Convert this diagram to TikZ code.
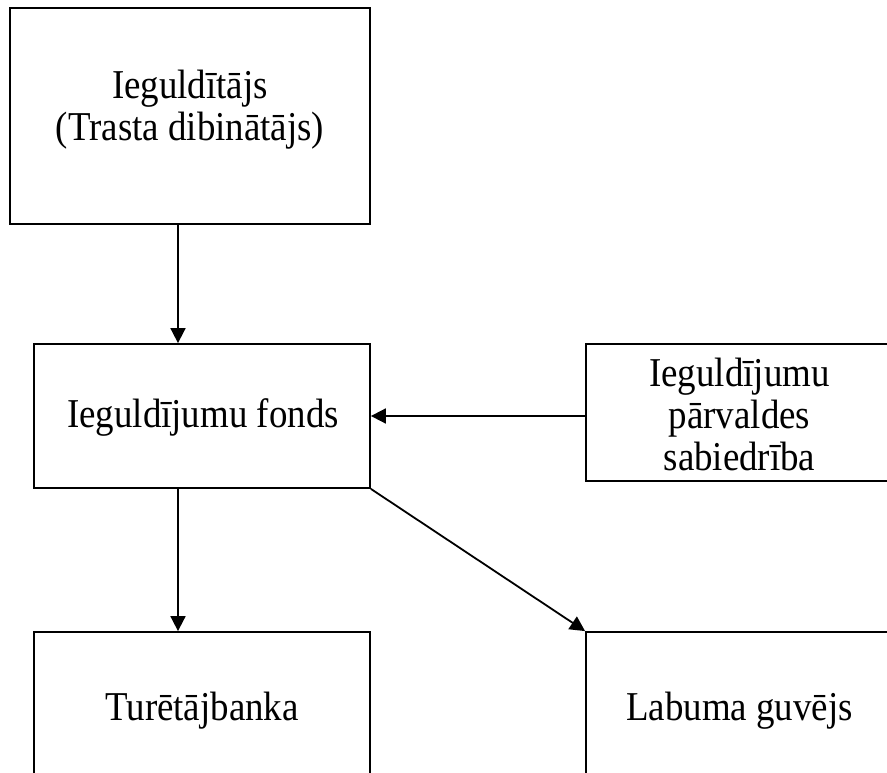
\documentclass[tikz,border=0pt]{standalone}
\usepackage{fontspec}
\setmainfont{Liberation Serif}[FakeStretch=0.9]
\usetikzlibrary{arrows.meta}
\begin{document}
\begin{tikzpicture}[x=1pt,y=-1pt,
  box/.style={draw,line width=1.8pt,inner sep=0pt},
  txt/.style={inner sep=0pt,align=center,
    font=\fontsize{41}{42}\selectfont},
  arrow/.style={line width=1.8pt,-{Triangle[length=15pt,width=15pt]}}]
  \useasboundingbox (0,0) rectangle (887,773);
  \clip (0,0) rectangle (887,773);

  % boxes
  \node[box,minimum width=360pt,minimum height=216pt] (investor) at (190,116) {};
  \node[box,minimum width=336pt,minimum height=144pt] (fund) at (202,416) {};
  \node[box,minimum width=307pt,minimum height=137pt] (mgmt) at (739.5,412.5) {};
  \node[box,minimum width=336pt,minimum height=156pt] (bank) at (202,710) {};
  \node[box,minimum width=307pt,minimum height=156pt] (benef) at (739.5,710) {};

  % box texts
  \node[txt] (investortext) at (190,110) {Ieguldītājs\\(Trasta dibinātājs)};
  \node[txt] (fundtext) at (203,417) {Ieguldījumu fonds};
  \node[txt] (mgmttext) at (739.5,414) {Ieguldījumu\\pārvaldes\\sabiedrība};
  \node[txt] (banktext) at (202,710.5) {Turētājbanka};
  \node[txt] (beneftext) at (739.5,710.5) {Labuma guvējs};

  % connectors
  \draw[arrow] ([xshift=-12pt]investor.south) -- ([xshift=-24pt]fund.north);
  \draw[arrow] ([yshift=-3.5pt]mgmt.west) -- (fund.east);
  \draw[arrow] ([xshift=-24pt]fund.south) -- ([xshift=-24pt]bank.north);
  \draw[arrow] (fund.south east) -- (benef.north west);
\end{tikzpicture}
\end{document}
